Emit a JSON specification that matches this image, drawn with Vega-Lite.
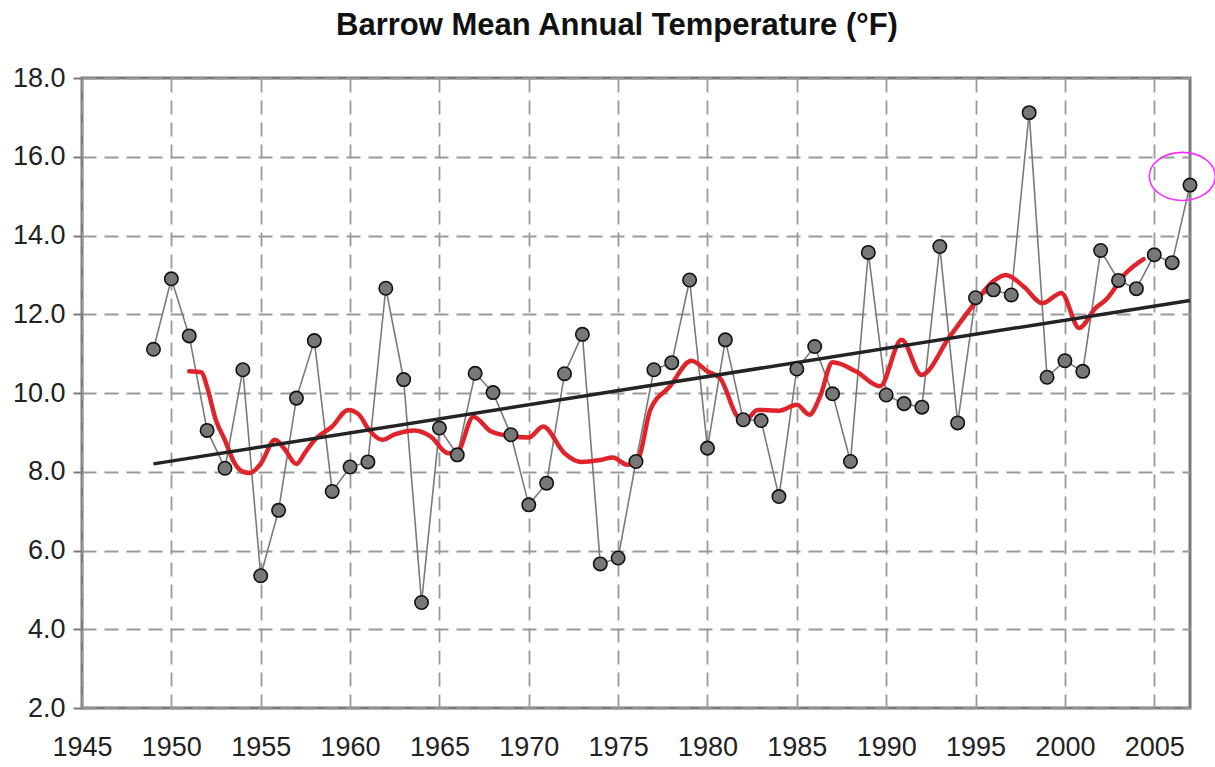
{
  "$schema": "https://vega.github.io/schema/vega-lite/v6.json",
  "autosize": {"type": "none"},
  "padding": {"left": 82, "top": 78, "right": 25, "bottom": 59},
  "width": 1108,
  "height": 630,
  "background": "white",
  "title": {
    "text": "Barrow Mean Annual Temperature (°F)",
    "font": "Liberation Sans",
    "fontSize": 31,
    "fontWeight": "bold",
    "color": "#111111",
    "anchor": "middle",
    "frame": "group",
    "dx": -19,
    "dy": 4,
    "baseline": "alphabetic",
    "offset": 2
  },
  "config": {
    "view": {"stroke": "#7a7a7a", "strokeWidth": 3},
    "axis": {
      "labelFont": "Liberation Sans",
      "labelFontSize": 27,
      "labelColor": "#222222",
      "domain": false,
      "gridColor": "#9a9a9a",
      "gridDash": [14, 8],
      "gridWidth": 1.8,
      "gridOpacity": 1,
      "title": null
    }
  },
  "datasets": {
    "obs": [
      {"year": 1949, "value": 11.11}, {"year": 1950, "value": 12.90}, {"year": 1951, "value": 11.45},
      {"year": 1952, "value": 9.05}, {"year": 1953, "value": 8.09}, {"year": 1954, "value": 10.59},
      {"year": 1955, "value": 5.36}, {"year": 1956, "value": 7.02}, {"year": 1957, "value": 9.87},
      {"year": 1958, "value": 11.33}, {"year": 1959, "value": 7.50}, {"year": 1960, "value": 8.12},
      {"year": 1961, "value": 8.25}, {"year": 1962, "value": 12.66}, {"year": 1963, "value": 10.34},
      {"year": 1964, "value": 4.68}, {"year": 1965, "value": 9.11}, {"year": 1966, "value": 8.43},
      {"year": 1967, "value": 10.50}, {"year": 1968, "value": 10.01}, {"year": 1969, "value": 8.94},
      {"year": 1970, "value": 7.16}, {"year": 1971, "value": 7.71}, {"year": 1972, "value": 10.49},
      {"year": 1973, "value": 11.49}, {"year": 1974, "value": 5.66}, {"year": 1975, "value": 5.81},
      {"year": 1976, "value": 8.26}, {"year": 1977, "value": 10.59}, {"year": 1978, "value": 10.77},
      {"year": 1979, "value": 12.87}, {"year": 1980, "value": 8.60}, {"year": 1981, "value": 11.35},
      {"year": 1982, "value": 9.32}, {"year": 1983, "value": 9.30}, {"year": 1984, "value": 7.37},
      {"year": 1985, "value": 10.61}, {"year": 1986, "value": 11.18}, {"year": 1987, "value": 9.98},
      {"year": 1988, "value": 8.26}, {"year": 1989, "value": 13.57}, {"year": 1990, "value": 9.95},
      {"year": 1991, "value": 9.73}, {"year": 1992, "value": 9.64}, {"year": 1993, "value": 13.72},
      {"year": 1994, "value": 9.24}, {"year": 1995, "value": 12.42}, {"year": 1996, "value": 12.62},
      {"year": 1997, "value": 12.49}, {"year": 1998, "value": 17.12}, {"year": 1999, "value": 10.40},
      {"year": 2000, "value": 10.82}, {"year": 2001, "value": 10.55}, {"year": 2002, "value": 13.62},
      {"year": 2003, "value": 12.86}, {"year": 2004, "value": 12.65}, {"year": 2005, "value": 13.51},
      {"year": 2006, "value": 13.31}, {"year": 2007, "value": 15.28}
    ],
    "smooth": [
      {"year": 1951.0, "value": 10.55}, {"year": 1951.7, "value": 10.52}, {"year": 1952.0, "value": 10.15},
      {"year": 1952.5, "value": 9.3}, {"year": 1953.0, "value": 8.8}, {"year": 1953.5, "value": 8.25},
      {"year": 1954.0, "value": 8.0}, {"year": 1954.4, "value": 7.97}, {"year": 1955.0, "value": 8.2},
      {"year": 1955.8, "value": 8.81}, {"year": 1956.3, "value": 8.6}, {"year": 1957.0, "value": 8.2},
      {"year": 1957.5, "value": 8.5}, {"year": 1958.0, "value": 8.8}, {"year": 1959.0, "value": 9.15},
      {"year": 1959.9, "value": 9.57}, {"year": 1960.5, "value": 9.45}, {"year": 1961.0, "value": 9.1},
      {"year": 1961.8, "value": 8.81}, {"year": 1962.5, "value": 8.95}, {"year": 1963.6, "value": 9.05},
      {"year": 1964.5, "value": 8.9}, {"year": 1965.5, "value": 8.47}, {"year": 1966.0, "value": 8.5},
      {"year": 1966.9, "value": 9.4}, {"year": 1967.9, "value": 9.02}, {"year": 1969.0, "value": 8.9},
      {"year": 1970.0, "value": 8.87}, {"year": 1970.8, "value": 9.15}, {"year": 1972.0, "value": 8.47},
      {"year": 1972.9, "value": 8.25}, {"year": 1974.0, "value": 8.3}, {"year": 1974.7, "value": 8.36},
      {"year": 1975.5, "value": 8.18}, {"year": 1976.1, "value": 8.3}, {"year": 1976.8, "value": 9.57},
      {"year": 1977.9, "value": 10.17}, {"year": 1979.1, "value": 10.82}, {"year": 1980.0, "value": 10.55},
      {"year": 1980.7, "value": 10.38}, {"year": 1981.6, "value": 9.45}, {"year": 1982.0, "value": 9.24},
      {"year": 1982.8, "value": 9.57}, {"year": 1984.0, "value": 9.55}, {"year": 1985.0, "value": 9.7},
      {"year": 1985.7, "value": 9.45}, {"year": 1986.3, "value": 9.91}, {"year": 1987.0, "value": 10.78},
      {"year": 1988.3, "value": 10.55}, {"year": 1989.65, "value": 10.17}, {"year": 1990.86, "value": 11.35},
      {"year": 1991.97, "value": 10.46}, {"year": 1993.55, "value": 11.43}, {"year": 1994.95, "value": 12.28},
      {"year": 1995.97, "value": 12.83}, {"year": 1996.7, "value": 13.0}, {"year": 1997.7, "value": 12.7},
      {"year": 1998.75, "value": 12.28}, {"year": 1999.8, "value": 12.54}, {"year": 2000.8, "value": 11.65},
      {"year": 2001.7, "value": 12.15}, {"year": 2002.3, "value": 12.37}, {"year": 2003.4, "value": 13.04},
      {"year": 2004.4, "value": 13.4}
    ],
    "trend": [
      {"year": 1949, "value": 8.2}, {"year": 2007, "value": 12.35}
    ],
    "note": [
      {"year": 2006.57, "value": 15.5}
    ]
  },
  "encoding": {
    "x": {
      "field": "year",
      "type": "quantitative",
      "scale": {"domain": [1945, 2007], "nice": false, "zero": false},
      "axis": {
        "values": [1945, 1950, 1955, 1960, 1965, 1970, 1975, 1980, 1985, 1990, 1995, 2000, 2005],
        "format": "d",
        "ticks": false,
        "labelPadding": 26,
        "labelFlush": false,
        "labelOverlap": false
      }
    },
    "y": {
      "field": "value",
      "type": "quantitative",
      "scale": {"domain": [2, 18], "nice": false, "zero": false},
      "axis": {
        "values": [2, 4, 6, 8, 10, 12, 14, 16, 18],
        "format": ".1f",
        "ticks": true,
        "tickSize": 9,
        "tickColor": "#7a7a7a",
        "tickWidth": 2,
        "labelPadding": 8,
        "labelFlush": false,
        "labelOverlap": false
      }
    }
  },
  "layer": [
    {
      "data": {"name": "obs"},
      "mark": {"type": "line", "color": "#7a7a7a", "strokeWidth": 1.6}
    },
    {
      "data": {"name": "smooth"},
      "mark": {"type": "line", "color": "#e0242c", "strokeWidth": 4.5, "interpolate": "monotone", "strokeCap": "round"}
    },
    {
      "data": {"name": "trend"},
      "mark": {"type": "line", "color": "#232323", "strokeWidth": 3.5}
    },
    {
      "data": {"name": "obs"},
      "mark": {"type": "circle", "size": 180, "fill": "#787878", "stroke": "#111111", "strokeWidth": 1.6, "opacity": 1, "clip": false}
    },
    {
      "data": {"name": "note"},
      "mark": {
        "type": "point",
        "shape": "M -1 0 A 1 0.73 0 1 0 1 0 A 1 0.73 0 1 0 -1 0 Z",
        "size": 4356,
        "filled": false,
        "stroke": "#ff2cff",
        "strokeWidth": 1.6,
        "opacity": 1,
        "clip": false
      }
    }
  ]
}
